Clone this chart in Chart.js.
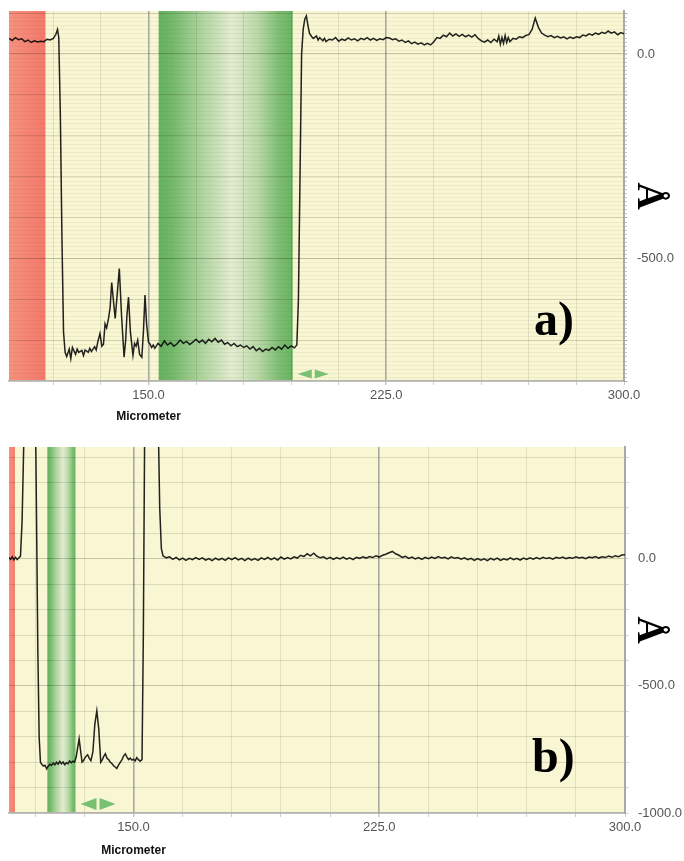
<!DOCTYPE html>
<html>
<head>
<meta charset="utf-8">
<script src="https://cdn.jsdelivr.net/npm/chart.js@4.4.0/dist/chart.umd.min.js"></script>
<style>
  html, body { margin: 0; padding: 0; background: #fff; }
  .panel { position: absolute; left: 0; width: 684px; }
  #wrapA { top: 0; height: 430px; }
  #wrapB { top: 430px; height: 431px; }
</style>
</head>
<body>
<div id="wrapA" class="panel"><canvas id="chartA" width="684" height="430"></canvas></div>
<div id="wrapB" class="panel"><canvas id="chartB" width="684" height="431"></canvas></div>
<script>
// panel a) profile, micrometer vs angstrom
const xA = [
  106, 107, 108, 109, 110, 111, 112, 113, 114, 115,
  116, 117, 118, 119, 120, 120.8, 121.3, 121.7, 122.2, 122.7,
  123.2, 123.7, 124.2, 125, 125.5, 126, 127, 127.5, 128, 129,
  129.5, 130, 131, 131.5, 132, 133, 133.5, 134, 134.7, 135.3,
  135.8, 136.3, 136.8, 137.4, 137.9, 138.4, 138.9, 139.5, 140, 140.8,
  141.5, 142.3, 142.8, 143.2, 143.7, 144.3, 145.1, 145.6, 146.1, 146.6,
  147.2, 147.9, 148.4, 148.9, 149.4, 150, 150.5, 151, 151.5, 152,
  153, 154, 155, 156, 157, 158, 159, 160, 161, 162,
  163, 164, 165, 166, 167, 168, 169, 170, 171, 172,
  173, 174, 175, 176, 177, 178, 179, 180, 181, 182,
  183, 184, 185, 186, 187, 188, 189, 190, 191, 192,
  193, 194, 195, 196, 196.8, 197.3, 197.8, 198.3, 198.8, 199.3,
  199.8, 200.3, 200.8, 201.5, 202, 203, 203.5, 204, 205, 205.5,
  206, 207, 208, 209, 210, 211, 212, 213, 214, 215,
  216, 217, 218, 219, 220, 221, 222, 223, 224, 225,
  226, 227, 228, 229, 230, 231, 232, 233, 234, 235,
  236, 237, 238, 239, 240, 241, 242, 243, 244, 245,
  246, 247, 248, 249, 250, 251, 252, 253, 254, 255,
  256, 257, 258, 259, 260, 260.5, 261, 261.5, 262, 262.5,
  263, 263.5, 264, 265, 266, 267, 268, 269, 270, 271,
  272, 273, 274, 275, 276, 277, 278, 279, 280, 281,
  282, 283, 284, 285, 286, 287, 288, 289, 290, 291,
  292, 293, 294, 295, 296, 297, 298, 299, 300
];
const yA = [
  38, 33, 40, 35, 37, 30, 34, 28, 32, 29,
  31, 30, 36, 34, 38, 48, 60, 40, -150, -450,
  -680, -730, -740, -722, -745, -718, -735, -722, -730, -725,
  -738, -724, -730, -720, -728, -716, -724, -705, -684, -715,
  -710, -660, -670, -647, -620, -559, -600, -647, -600, -525,
  -640, -742, -700, -640, -595, -680, -737, -708, -715, -700,
  -735, -742, -680, -590, -660, -705, -710, -718, -712, -720,
  -708, -715, -702, -712, -706, -715, -709, -700, -708, -703,
  -711, -705, -698, -706, -700, -708, -698, -704, -696, -705,
  -700, -710, -706, -714, -708, -716, -712, -718, -714, -722,
  -716, -726, -720, -728, -722, -725, -718, -724, -716, -722,
  -712, -720, -714, -719, -712, -600, -300, 0, 60, 85,
  93, 70, 50, 42, 38, 44, 34, 40, 32, 38,
  30, 36, 34, 40, 31, 36, 33, 39, 34, 37,
  32, 38, 35, 40, 34, 38, 33, 37, 35, 40,
  39, 35, 37, 31, 34, 28, 32, 25, 29, 24,
  27, 22, 26, 22, 30, 40, 38, 46, 42, 51,
  44, 49, 43, 48, 42, 46, 41, 47, 38, 32,
  29, 34, 28, 36, 30, 44, 24, 40, 26, 45,
  28, 40, 30, 38, 36, 42, 40, 45, 47, 60,
  88, 65, 51, 46, 42, 45, 40, 43, 39, 42,
  37, 41, 38, 42, 40, 46, 44, 49, 46, 51,
  48, 53, 50, 56, 51, 54, 47, 52, 49
];

// panel b) profile
const xB = [
  112, 112.5, 113, 113.5, 114, 114.5, 115, 115.5, 116, 116.5,
  117, 118, 119, 119.7, 120.2, 120.8, 121.2, 121.6, 122, 122.5,
  123, 123.5, 124, 124.5, 125, 125.5, 126, 126.5, 127, 127.5,
  128, 128.5, 129, 129.5, 130, 130.5, 131, 131.5, 132, 132.5,
  133, 133.4, 133.9, 134.3, 134.7, 135.3, 136, 136.5, 137, 137.6,
  138.2, 138.8, 139.4, 140, 140.5, 141, 141.4, 141.9, 142.4, 142.9,
  143.4, 144, 144.5, 144.9, 145.5, 146, 146.5, 147, 147.5, 148,
  148.5, 149, 149.5, 150, 150.5, 151, 151.5, 152, 152.6, 153,
  153.4, 154, 155, 156, 157, 157.6, 158, 158.5, 159, 160,
  161, 162, 163, 164, 165, 166, 167, 168, 169, 170,
  171, 172, 173, 174, 175, 176, 177, 178, 179, 180,
  181, 182, 183, 184, 185, 186, 187, 188, 189, 190,
  191, 192, 193, 194, 195, 196, 197, 198, 199, 200,
  201, 202, 203, 204, 205, 206, 207, 208, 209, 210,
  211, 212, 213, 214, 215, 216, 217, 218, 219, 220,
  221, 222, 223, 224, 225, 226, 227, 228, 229, 230,
  231, 232, 233, 234, 235, 236, 237, 238, 239, 240,
  241, 242, 243, 244, 245, 246, 247, 248, 249, 250,
  251, 252, 253, 254, 255, 256, 257, 258, 259, 260,
  261, 262, 263, 264, 265, 266, 267, 268, 269, 270,
  271, 272, 273, 274, 275, 276, 277, 278, 279, 280,
  281, 282, 283, 284, 285, 286, 287, 288, 289, 290,
  291, 292, 293, 294, 295, 296, 297, 298, 299, 300
];
const yB = [
  5, -2, 8, -4, 6, -3, 4, 10, 150, 450,
  700, 750, 750, 700, 420, -360, -700, -800, -808, -815,
  -812, -826, -815, -808, -813, -803, -810, -800, -808, -797,
  -806, -799, -810, -802, -806, -795, -802, -796, -800, -780,
  -740, -708, -760, -800, -795, -780, -771, -785, -794, -760,
  -650, -598, -670, -800, -790, -775, -767, -785, -790, -800,
  -805, -815, -820, -825, -810, -800, -790, -775, -767, -780,
  -790, -784, -792, -788, -795, -782, -790, -796, -790, -300,
  500, 750, 760, 760, 740, 500, 200, 40, 12, 4,
  8, -2, 6, -4, 3, -6, 2, -3, 5, -2,
  4, -5, 1, -7, 3, -4, 2, -6, 4, -3,
  5, -4, 2, -7, 3, -5, 1, -6, 4, -2,
  6, -3, 4, -5, 7, -1, 5, 0, 8, 3,
  14, 9, 20, 12, 22, 10, 4, 8, 0, 6,
  -2, 5, 0, 7, -1, 4, -3, 6, 2, 8,
  3, 9, 5, 12, 7, 14, 18, 24, 29, 20,
  14, 6, 10, 2, 7, 0, 5, -2, 6, 1,
  7, 2, 9, 3, 6, 0, 8, 2, 5, -1,
  4, -3, 2, -6, 1, -5, 0, -7, 2, -4,
  3, -6, 0, -4, 4, -3, 2, -5, 3, -2,
  4, -1, 5, 0, 6, 1, 4, -1, 6, 2,
  7, 1, 5, 2, 8, 3, 6, 1, 7, 4,
  9, 3, 8, 5, 11, 6, 12, 8, 15, 16
];

// shaded regions (micrometer)
const redBandA = [106, 117.5];
const greenBandA = [153.2, 195.5];
const redBandB = [112, 113.8];
const greenBandB = [123.7, 132.3];

// tick positions and which of them carry a label
const xTicks = [120, 135, 150, 165, 180, 195, 210, 225, 240, 255, 270, 285, 300];
const xLabelTicks = [150, 225, 300];
const yTicksA = [-800, -700, -600, -500, -400, -300, -200, -100, 0, 100];
const yTicksB = [-1000, -900, -800, -700, -600, -500, -400, -300, -200, -100, 0, 100, 200, 300, 400];
const yLabelTicks = [-1000, -500, 0];

function decor(o) {
    return {
        id: 'decor',
        beforeDraw(chart) {
            const ctx = chart.ctx;
            const a = chart.chartArea;
            const x = chart.scales.x;
            const y = chart.scales.y;
            ctx.save();
            ctx.fillStyle = '#f9f7d3';
            ctx.fillRect(a.left, a.top, a.right - a.left, a.bottom - a.top);

            // red band
            let x0 = x.getPixelForValue(o.red[0]);
            let x1 = x.getPixelForValue(o.red[1]);
            let g = ctx.createLinearGradient(x0, 0, x1, 0);
            g.addColorStop(0, '#f7917f');
            g.addColorStop(1, '#f4786a');
            ctx.fillStyle = g;
            ctx.fillRect(x0, a.top, x1 - x0, a.bottom - a.top);

            // green band
            x0 = x.getPixelForValue(o.green[0]);
            x1 = x.getPixelForValue(o.green[1]);
            g = ctx.createLinearGradient(x0, 0, x1, 0);
            g.addColorStop(0, '#66b160');
            g.addColorStop(0.1, '#72b86a');
            g.addColorStop(0.3, '#a9d29a');
            g.addColorStop(0.55, '#e4ecd0');
            g.addColorStop(0.75, '#b5d8a5');
            g.addColorStop(0.9, '#7cbd72');
            g.addColorStop(1, '#6ab464');
            ctx.fillStyle = g;
            ctx.fillRect(x0, a.top, x1 - x0, a.bottom - a.top);

            // fine horizontal stripes (panel a only)
            if (o.stripes) {
                ctx.lineWidth = 1;
                for (let v = y.min - (y.min % o.stripes); v <= y.max; v += o.stripes) {
                    const py = Math.round(y.getPixelForValue(v)) + 0.5;
                    ctx.strokeStyle = 'rgba(120,110,60,0.09)';
                    ctx.beginPath();
                    ctx.moveTo(a.left, py);
                    ctx.lineTo(a.right, py);
                    ctx.stroke();
                    ctx.strokeStyle = 'rgba(0,0,0,0.22)';
                    ctx.beginPath();
                    ctx.moveTo(a.right, py);
                    ctx.lineTo(a.right + 3, py);
                    ctx.stroke();
                }
            }
            ctx.restore();
        },
        afterDraw(chart) {
            const ctx = chart.ctx;
            const a = chart.chartArea;
            const x = chart.scales.x;
            ctx.save();

            // green arrows next to the band
            const ax = x.getPixelForValue(o.green[1]) + 5;
            const cy = a.bottom - o.arrowDy;
            const w = o.arrowW, h = o.arrowH;
            ctx.fillStyle = '#78c172';
            ctx.beginPath();
            ctx.moveTo(ax, cy);
            ctx.lineTo(ax + w, cy - h / 2);
            ctx.lineTo(ax + w, cy + h / 2);
            ctx.closePath();
            ctx.fill();
            ctx.beginPath();
            ctx.moveTo(ax + 2 * w + 3, cy);
            ctx.lineTo(ax + w + 3, cy - h / 2);
            ctx.lineTo(ax + w + 3, cy + h / 2);
            ctx.closePath();
            ctx.fill();

            // axis name
            ctx.fillStyle = '#111';
            ctx.font = 'bold 12px "Liberation Sans", Arial, sans-serif';
            ctx.textAlign = 'center';
            ctx.textBaseline = 'middle';
            ctx.fillText('Micrometer', x.getPixelForValue(150), a.bottom + o.titleDy);

            // panel letter
            ctx.fillStyle = '#000';
            ctx.font = 'bold 48px "Liberation Serif", "Times New Roman", serif';
            ctx.textAlign = 'left';
            ctx.textBaseline = 'alphabetic';
            ctx.fillText(o.label, a.right - o.labelDx, a.bottom - o.labelDy);
            ctx.restore();
        }
    };
}

function makeChart(id, xs, ys, xmin, ymin, ymax, yTicks, pad, yWidth, xHeight, o) {
    const points = xs.map((v, i) => ({ x: v, y: ys[i] }));
    return new Chart(document.getElementById(id), {
        type: 'line',
        data: {
            datasets: [{
                data: points,
                borderColor: 'rgba(10,10,10,0.9)',
                borderWidth: 1.5,
                pointRadius: 0,
                tension: 0,
                fill: false
            }]
        },
        options: {
            responsive: false,
            animation: false,
            events: [],
            layout: { padding: { left: 9, top: pad, right: 0, bottom: 0 } },
            plugins: { legend: { display: false }, tooltip: { enabled: false } },
            scales: {
                x: {
                    type: 'linear',
                    min: xmin,
                    max: 300,
                    afterBuildTicks: s => { s.ticks = xTicks.map(v => ({ value: v })); },
                    afterFit: s => { s.height = xHeight; s.paddingLeft = 0; s.paddingRight = 0; },
                    border: { color: '#b4b4ac', width: 1.5 },
                    grid: {
                        color: c => (c.tick && (c.tick.value === 150 || c.tick.value === 225)) ? '#a9a9a2' : 'rgba(0,0,0,0.09)',
                        lineWidth: c => (c.tick && (c.tick.value === 150 || c.tick.value === 225)) ? 1.6 : 1,
                        tickColor: 'rgba(0,0,0,0.2)',
                        tickLength: 4
                    },
                    ticks: {
                        autoSkip: false,
                        maxRotation: 0,
                        padding: 3,
                        color: '#555',
                        font: { family: '"Liberation Sans", Arial, sans-serif', size: 13 },
                        callback: v => xLabelTicks.includes(v) ? v.toFixed(1) : ''
                    }
                },
                y: {
                    type: 'linear',
                    position: 'right',
                    min: ymin,
                    max: ymax,
                    afterBuildTicks: s => { s.ticks = yTicks.map(v => ({ value: v })); },
                    afterFit: s => { s.width = yWidth; s.paddingTop = 0; s.paddingBottom = 0; },
                    border: { color: '#aaaaa4', width: 2 },
                    grid: {
                        color: c => (c.tick && c.tick.value % 500 === 0) ? 'rgba(0,0,0,0.2)' : 'rgba(0,0,0,0.12)',
                        tickColor: 'rgba(0,0,0,0.15)',
                        tickLength: 4
                    },
                    ticks: {
                        autoSkip: false,
                        padding: 9,
                        color: '#555',
                        font: { family: '"Liberation Sans", Arial, sans-serif', size: 13 },
                        callback: v => yLabelTicks.includes(v) ? v.toFixed(1) : ''
                    },
                    title: {
                        display: true,
                        text: 'Å',
                        color: '#000',
                        font: { family: '"Liberation Serif", "Times New Roman", serif', size: 38, weight: 'bold' },
                        padding: { top: 13, bottom: 0 }
                    }
                }
            }
        },
        plugins: [decor(o)]
    });
}

makeChart('chartA', xA, yA, 106, -800, 105, yTicksA, 11, 60, 49, {
    red: redBandA, green: greenBandA, stripes: 10,
    arrowDy: 7, arrowW: 14, arrowH: 9, titleDy: 36,
    label: 'a)', labelDx: 90, labelDy: 46
});
makeChart('chartB', xB, yB, 112, -1000, 440, yTicksB, 17, 59, 48, {
    red: redBandB, green: greenBandB, stripes: 0,
    arrowDy: 9, arrowW: 16, arrowH: 12, titleDy: 38,
    label: 'b)', labelDx: 93, labelDy: 41
});
</script>
</body>
</html>
